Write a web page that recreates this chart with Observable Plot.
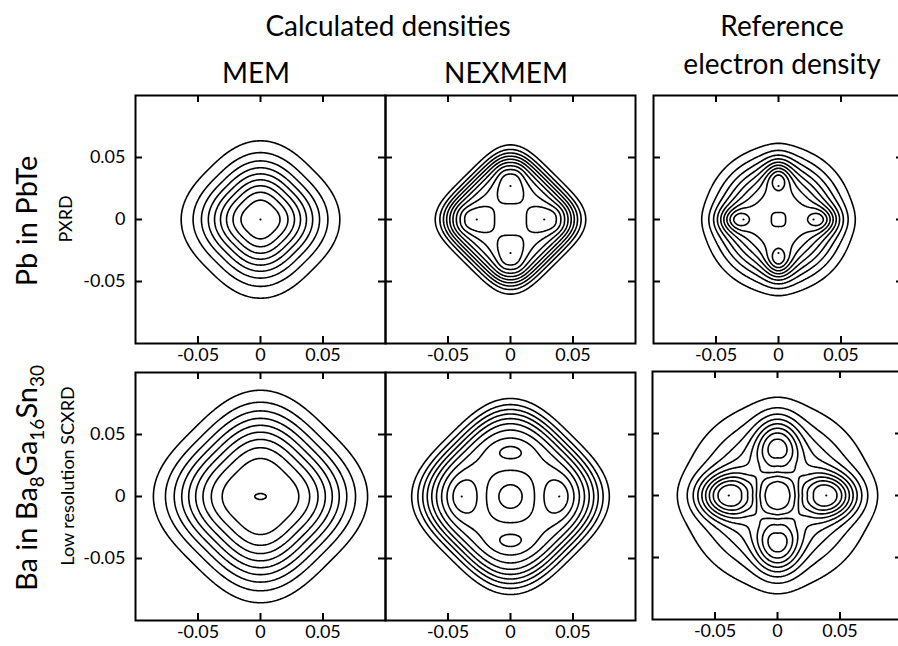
<!DOCTYPE html>
<html>
<head>
<meta charset="utf-8">
<script src="https://cdn.jsdelivr.net/npm/d3@7"></script>
<script src="https://cdn.jsdelivr.net/npm/@observablehq/plot@0.6"></script>
<style>
  html, body { margin: 0; padding: 0; background: #fff; }
  #root { position: relative; width: 898px; height: 646px; overflow: hidden; background: #fff; }
  .panel { position: absolute; }
  #labels { position: absolute; left: 0; top: 0; }
</style>
</head>
<body>
<div id="root">
<svg id="labels" width="898" height="646" font-family="Lato, 'Open Sans', sans-serif" fill="#000">
  <text x="388" y="36" text-anchor="middle" font-size="28">Calculated densities</text>
  <text x="256" y="83" text-anchor="middle" font-size="28">MEM</text>
  <text x="506" y="83" text-anchor="middle" font-size="28">NEXMEM</text>
  <text x="782" y="36" text-anchor="middle" font-size="28">Reference</text>
  <text x="782" y="74" text-anchor="middle" font-size="28">electron density</text>
  <text transform="translate(37,221) rotate(-90)" text-anchor="middle" font-size="29">Pb in PbTe</text>
  <text transform="translate(72,219) rotate(-90)" text-anchor="middle" font-size="18">PXRD</text>
  <text transform="translate(37,478) rotate(-90)" text-anchor="middle" font-size="29">Ba in Ba<tspan dy="7" font-size="19">8</tspan><tspan dy="-7">Ga</tspan><tspan dy="7" font-size="19">16</tspan><tspan dy="-7">Sn</tspan><tspan dy="7" font-size="19">30</tspan></text>
  <text transform="translate(74,476) rotate(-90)" text-anchor="middle" font-size="18">Low resolution SCXRD</text>
</svg>
</div>
<script>
// ---------- data ----------
const xTicks = [-0.05, 0, 0.05];
const yTicks = [-0.05, 0, 0.05];
const levels = [0.1, 0.2, 0.3, 0.4, 0.5, 0.6, 0.7, 0.8, 0.9];

// density components: centre (x, y), amplitude a, widths sx/sy (sxn/syn on the negative side),
// shape exponent p, fall-off q, ring radius R, rot = square turned 45 degrees
const memPbComps = [
  {x: 0, y: 0, a: 1, sx: 0.0397, sy: 0.0397, p: 2.7, q: 2.2, rot: 1}
];
const memPbPeaks = [[0, 0]];
const memPbLevels = levels;

const nexPbComps = [
  {x: 0, y: 0, a: 0.85, sx: 0.0445, sy: 0.0445, p: 4, q: 6, rot: 1},
  {x: 0.027, y: 0, a: 0.2, sx: 0.016, sxn: 0.012, sy: 0.01, p: 3, q: 2},
  {x: -0.027, y: 0, a: 0.2, sx: 0.012, sxn: 0.016, sy: 0.01, p: 3, q: 2},
  {x: 0, y: 0.027, a: 0.2, sx: 0.01, sy: 0.016, syn: 0.012, p: 3, q: 2},
  {x: 0, y: -0.027, a: 0.2, sx: 0.01, sy: 0.012, syn: 0.016, p: 3, q: 2}
];
const nexPbPeaks = [[0.027, 0], [-0.027, 0], [0, 0.027], [0, -0.027]];
const nexPbLevels = levels;

const refPbComps = [
  {x: 0, y: 0, a: 0.88, sx: 0.046, sy: 0.046, p: 2, q: 3},
  {x: 0, y: 0, a: -0.11, sx: 0.01, sy: 0.01, p: 3, q: 2},
  {x: 0.034, y: 0, a: 0.36, sx: 0.015, sxn: 0.0105, sy: 0.0105, p: 2, q: 1.8},
  {x: -0.034, y: 0, a: 0.36, sx: 0.0105, sxn: 0.015, sy: 0.0105, p: 2, q: 1.8},
  {x: 0, y: 0.034, a: 0.36, sx: 0.0105, sy: 0.015, syn: 0.0105, p: 2, q: 1.8},
  {x: 0, y: -0.034, a: 0.36, sx: 0.0105, sy: 0.0105, syn: 0.015, p: 2, q: 1.8}
];
const refPbPeaks = [[0.028, 0], [-0.028, 0], [0, 0.027], [0, -0.027]];
const refPbLevels = levels;

const memBaComps = [
  {x: 0, y: 0, a: 1, sx: 0.0578, sy: 0.0578, p: 3, q: 3, rot: 1},
  {x: 0, y: 0, a: 0.02, sx: 0.004, sy: 0.002, p: 2, q: 2}
];
const memBaPeaks = [];
const memBaLevels = [0.1, 0.2, 0.3, 0.4, 0.5, 0.6, 0.7, 0.8, 0.9, 1.005];

const nexBaComps = [
  {x: 0, y: 0, a: 0.86, sx: 0.0611, sy: 0.0611, p: 3.2, q: 6, rot: 1},
  {x: 0, y: 0, a: -0.2, sx: 0.02, sy: 0.02, p: 2, q: 2},
  {x: 0.038, y: 0, a: 0.16, sx: 0.013, sy: 0.016, p: 2, q: 2},
  {x: -0.038, y: 0, a: 0.16, sx: 0.013, sy: 0.016, p: 2, q: 2},
  {x: 0, y: 0.036, a: 0.095, sx: 0.015, sy: 0.009, p: 2, q: 2},
  {x: 0, y: -0.036, a: 0.095, sx: 0.015, sy: 0.009, p: 2, q: 2}
];
const nexBaPeaks = [[0.039, 0], [-0.039, 0]];
const nexBaLevels = levels;

const refBaComps = [
  {x: 0, y: 0, a: 0.38, sx: 0.055, sy: 0.055, p: 2, q: 3},
  {x: 0, y: 0, a: 0.25, sx: 0.066, sy: 0.066, p: 2, q: 2},
  {x: 0.039, y: 0, a: 0.65, sx: 0.024, sy: 0.017, p: 2, q: 2.18},
  {x: -0.039, y: 0, a: 0.65, sx: 0.024, sy: 0.017, p: 2, q: 2.18},
  {x: 0, y: 0.0387, a: 0.5, sx: 0.017, sy: 0.024, p: 2, q: 2.18},
  {x: 0, y: -0.0387, a: 0.5, sx: 0.017, sy: 0.024, p: 2, q: 2.18},
  {x: 0, y: 0, a: -0.44, sx: 0.0319, sy: 0.0319, p: 1.3, q: 2.4},
  {x: 0, y: 0, a: 0.06, sx: 0.006, sy: 0.006, p: 2.5, q: 2, R: 0.02}
];
const refBaPeaks = [[0.039, 0], [-0.039, 0]];
const refBaLevels = levels;

// ---------- drawing ----------
function density(comps) {
  return (x, y) => {
    let v = 0;
    for (const c of comps) {
      let u = x - c.x, w = y - c.y;
      if (c.rot) { const t = (u + w) / Math.SQRT2; w = (u - w) / Math.SQRT2; u = t; }
      const su = u >= 0 ? c.sx : (c.sxn ?? c.sx);
      const sw = w >= 0 ? c.sy : (c.syn ?? c.sy);
      let d = Math.pow(Math.pow(Math.abs(u) / su, c.p) + Math.pow(Math.abs(w) / sw, c.p), 1 / c.p);
      if (c.R) d = Math.abs(d - c.R / c.sx);
      v += c.a * Math.exp(-Math.pow(d, c.q));
    }
    return v;
  };
}

const fmt = d => d === 0 ? "0" : d.toFixed(2);
const W = 250, H = 248, mL = 60, mR = 6, mT = 6, mB = 34;

function panel(comps, thresholds, peaks, yLabels) {
  return Plot.plot({
    width: W + mL + mR, height: H + mT + mB,
    marginLeft: mL, marginRight: mR, marginTop: mT, marginBottom: mB,
    x: {domain: [-0.1, 0.1]},
    y: {domain: [-0.1, 0.1], axis: yLabels ? undefined : null},
    style: {background: "transparent", fontFamily: "Lato, 'Open Sans', sans-serif", fontSize: "18px", overflow: "visible", maxWidth: "none", color: "#000"},
    marks: [
      Plot.contour({value: density(comps), x1: -0.1, x2: 0.1, y1: -0.1, y2: 0.1,
        thresholds, pixelSize: 1, fill: "none", stroke: "#000", strokeWidth: 1.6}),
      Plot.dot(peaks, {x: d => d[0], y: d => d[1], r: 1.1, fill: "#000", stroke: null}),
      Plot.ruleX(xTicks, {x: d => d, insetTop: H - 7, stroke: "#000", strokeWidth: 2}),
      Plot.ruleX(xTicks, {x: d => d, insetBottom: H - 7, stroke: "#000", strokeWidth: 2}),
      Plot.ruleY(yTicks, {y: d => d, insetRight: W - 7, stroke: "#000", strokeWidth: 2}),
      Plot.ruleY(yTicks, {y: d => d, insetLeft: W - 7, stroke: "#000", strokeWidth: 2}),
      Plot.frame({stroke: "#000", strokeWidth: 2}),
      Plot.axisX(xTicks, {anchor: "bottom", tickSize: 0, tickPadding: 5, tickFormat: fmt, label: null}),
      yLabels ? Plot.axisY(yTicks, {anchor: "left", tickSize: 0, tickPadding: 10, tickFormat: fmt, label: null}) : null
    ]
  });
}

const panels = [
  {comps: memPbComps, levels: memPbLevels, peaks: memPbPeaks, left: 135, top: 95, yl: true},
  {comps: nexPbComps, levels: nexPbLevels, peaks: nexPbPeaks, left: 385, top: 95, yl: false},
  {comps: refPbComps, levels: refPbLevels, peaks: refPbPeaks, left: 653, top: 95, yl: false},
  {comps: memBaComps, levels: memBaLevels, peaks: memBaPeaks, left: 135, top: 372, yl: true},
  {comps: nexBaComps, levels: nexBaLevels, peaks: nexBaPeaks, left: 385, top: 372, yl: false},
  {comps: refBaComps, levels: refBaLevels, peaks: refBaPeaks, left: 652, top: 371, yl: false}
];

const root = document.getElementById("root");
for (const p of panels) {
  const svg = panel(p.comps, p.levels, p.peaks, p.yl);
  svg.classList.add("panel");
  svg.style.left = (p.left - mL) + "px";
  svg.style.top = (p.top - mT) + "px";
  root.insertBefore(svg, document.getElementById("labels"));
}
</script>
</body>
</html>
